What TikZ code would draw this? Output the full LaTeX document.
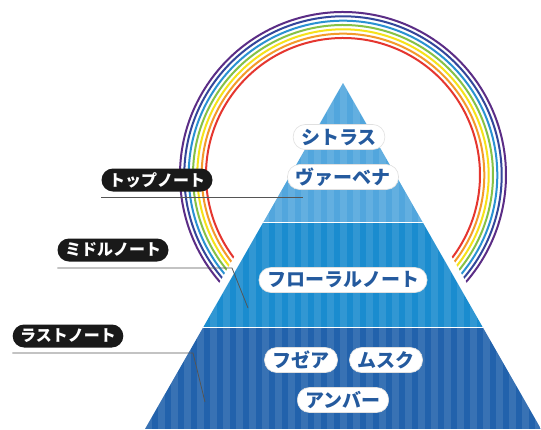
\documentclass[tikz,border=0pt]{standalone}
\usepackage{fontspec}
\newfontfamily\jp{Noto Sans CJK JP}
\definecolor{rbviolet}{HTML}{5B2D86}
\definecolor{rbindigo}{HTML}{34479B}
\definecolor{rbblue}{HTML}{2A92D2}
\definecolor{rbgreen}{HTML}{86C146}
\definecolor{rbyellow}{HTML}{F6E21A}
\definecolor{rborange}{HTML}{F39A2B}
\definecolor{rbred}{HTML}{E5362F}
\definecolor{tiertop}{HTML}{52A6DD}
\definecolor{tiermid}{HTML}{1A8CCF}
\definecolor{tierbase}{HTML}{2262AC}
\definecolor{pilltext}{HTML}{245A9E}
\definecolor{leader}{HTML}{555555}
\tikzset{
  pill/.style={fill=white, draw=black!12, line width=0.6pt, text=pilltext, rounded corners=12pt, minimum height=25pt,
    inner xsep=8pt, inner ysep=0pt, font=\jp\bfseries\fontsize{19pt}{19pt}\selectfont},
  tag/.style={fill=black!90, text=white, rounded corners=11.5pt, minimum height=23pt,
    inner xsep=7.5pt, inner ysep=0pt, font=\jp\bfseries\fontsize{16pt}{16pt}\selectfont},
  leaderline/.style={leader, line width=0.8pt}
}
\begin{document}
\begin{tikzpicture}[x=1pt, y=-1pt]
    \useasboundingbox[fill=white] (0,0) rectangle (541,429);
    \coordinate (apex) at (343,83);
    \coordinate (bl) at (145,429);
    \coordinate (br) at (541,429);
    % rainbow
    \foreach \r/\c in {163/rbviolet,158.7/rbindigo,154.3/rbblue,150/rbgreen,145.7/rbyellow,141.3/rborange,137/rbred}
    \draw[\c, line width=2pt] (343,175) ++(125:\r) arc[start angle=125, end angle=415, radius=\r];
    \draw[white, line width=16pt, line join=round] (bl) -- (apex) -- (br);
    % pyramid
    \begin{scope}
    \clip (apex) -- (bl) -- (br) -- cycle;
    \fill[tiertop] (145,83) rectangle (541,222);
    \fill[tiermid] (145,222) rectangle (541,327);
    \fill[tierbase] (145,327) rectangle (541,429);
    \foreach \x in {145,158,...,541}
    \fill[white, opacity=0.1] (\x,83) rectangle ++(6.5,346);
    \draw[white, line width=1pt] (145,222) -- (541,222);
    \draw[white, line width=1pt] (145,327) -- (541,327);
    \end{scope}
    % labels on the left
    \node[tag] (topnote) at (157,180) {トップノート};
    \node[tag] (middlenote) at (113,250) {ミドルノート};
    \node[tag] (lastnote) at (68,336) {ラストノート};
    \coordinate (topend) at (303,197);
    \coordinate (midbend) at (232,268);
    \coordinate (midend) at (248,308);
    \coordinate (lastbend) at (193,353);
    \coordinate (lastend) at (205,402);
    \draw[leaderline] (topnote.west |- topend) -- (topend);
    \draw[leaderline] (middlenote.west |- midbend) -- (midbend) -- (midend);
    \draw[leaderline] (lastnote.west |- lastbend) -- (lastbend) -- (lastend);
    % notes
    \node[pill] (citrus) at (339,137) {シトラス};
    \node[pill] (verbena) at (343,177) {ヴァーベナ};
    \node[pill] (floral) at (343,280) {フローラルノート};
    \node[pill] (fougere) at (301,360) {フゼア};
    \node[pill] (musk) at (386,360) {ムスク};
    \node[pill] (amber) at (343,400) {アンバー};
\end{tikzpicture}
\end{document}
